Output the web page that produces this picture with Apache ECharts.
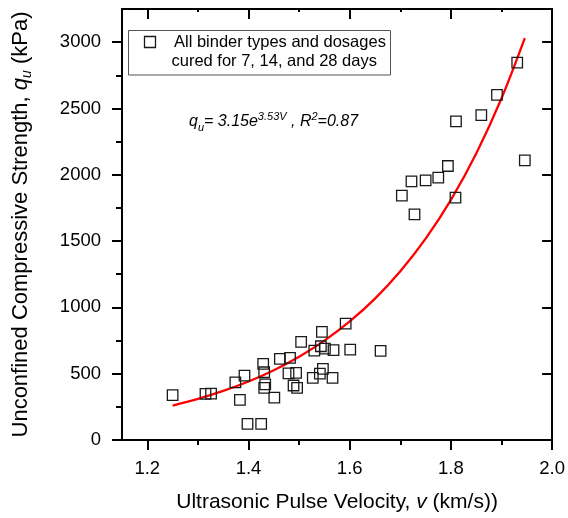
<!DOCTYPE html>
<html><head><meta charset="utf-8">
<script src="https://cdn.jsdelivr.net/npm/echarts@6/dist/echarts.min.js"></script>
<style>html,body{margin:0;padding:0;background:#fff}#c{width:568px;height:518px}</style>
</head><body><div id="c"></div>
<script>
// Measured points: ultrasonic pulse velocity (km/s) and UCS (kPa)
const velocity = [1.25, 1.315, 1.326, 1.374, 1.392, 1.383, 1.398, 1.425, 1.429, 1.431, 1.431, 1.433, 1.451, 1.462, 1.482, 1.479, 1.494, 1.489, 1.496, 1.504, 1.530, 1.527, 1.543, 1.551, 1.545, 1.547, 1.541, 1.566, 1.568, 1.592, 1.601, 1.661, 1.703, 1.722, 1.728, 1.750, 1.775, 1.794, 1.809, 1.810, 1.860, 1.891, 1.931, 1.946];
const strength = [338, 348, 350, 435, 486, 303, 122, 122, 574, 511, 393, 420, 320, 612, 619, 503, 506, 411, 393, 740, 674, 469, 707, 689, 815, 536, 501, 469, 677, 878, 682, 672, 1842, 1950, 1701, 1957, 1978, 2066, 1827, 2402, 2450, 2603, 2846, 2108];
// Fitted curve
const fitVelocity = [1.25, 1.30, 1.35, 1.40, 1.45, 1.50, 1.55, 1.60, 1.65, 1.70, 1.75, 1.80, 1.85, 1.90, 1.946];
const fitStrength = [260, 310, 370, 441, 526, 628, 749, 894, 1066, 1272, 1518, 1811, 2160, 2577, 3031];
// Ticks
const xMajorTicks = [1.2, 1.4, 1.6, 1.8, 2.0];
const xMinorTicks = [1.3, 1.5, 1.7, 1.9];
const yMajorTicks = [0, 500, 1000, 1500, 2000, 2500, 3000];
const yMinorTicks = [250, 750, 1250, 1750, 2250, 2750];
const legendLines = ['All binder types and dosages', 'cured for 7, 14, and 28 days'];

const FONT = '"Liberation Sans", Arial, Helvetica, sans-serif';
const X_MIN = 1.15, X_MAX = 2.0, Y_MIN = 0, Y_MAX = 3250;

function xAxisBase(extra) {
  return Object.assign({
    type: 'value', min: X_MIN, max: X_MAX, gridIndex: 0,
    splitLine: { show: false },
    axisLine: { show: false, onZero: false },
    axisLabel: { show: false },
    axisTick: { show: false }
  }, extra);
}
function yAxisBase(extra) {
  return Object.assign({
    type: 'value', min: Y_MIN, max: Y_MAX, gridIndex: 0,
    splitLine: { show: false },
    axisLine: { show: false, onZero: false },
    axisLabel: { show: false },
    axisTick: { show: false }
  }, extra);
}
const lineStyle = { color: '#000', width: 2 };

const chart = echarts.init(document.getElementById('c'), null, { renderer: 'canvas' });
chart.setOption({
  animation: false,
  backgroundColor: '#fff',
  grid: { left: 122, right: 15, top: 9, bottom: 77, containLabel: false },
  xAxis: [
    xAxisBase({
      position: 'bottom',
      axisLine: { show: true, onZero: false, lineStyle: lineStyle },
      axisTick: { show: true, inside: false, length: 10, lineStyle: lineStyle, customValues: xMajorTicks },
      axisLabel: { show: true, customValues: xMajorTicks, margin: 19, color: '#000', fontSize: 18.5, fontFamily: FONT,
        formatter: v => v.toFixed(1) },
      name: '{n|Ultrasonic Pulse Velocity, }{i|v}{n| (km/s))}',
      nameLocation: 'middle', nameGap: 52,
      nameTextStyle: { rich: {
        n: { fontSize: 21, fontFamily: FONT, color: '#000' },
        i: { fontSize: 21, fontFamily: FONT, fontStyle: 'italic', color: '#000' }
      } }
    }),
    xAxisBase({ position: 'bottom',
      axisTick: { show: true, inside: false, length: 5, lineStyle: lineStyle, customValues: xMinorTicks } }),
    xAxisBase({ position: 'top',
      axisLine: { show: true, onZero: false, lineStyle: lineStyle },
      axisTick: { show: true, inside: true, length: 10, lineStyle: lineStyle, customValues: xMajorTicks } }),
    xAxisBase({ position: 'top',
      axisTick: { show: true, inside: true, length: 3, lineStyle: lineStyle, customValues: xMinorTicks } })
  ],
  yAxis: [
    yAxisBase({
      position: 'left',
      axisLine: { show: true, onZero: false, lineStyle: lineStyle },
      axisTick: { show: true, inside: false, length: 10, lineStyle: lineStyle, customValues: yMajorTicks },
      axisLabel: { show: true, customValues: yMajorTicks, margin: 21, color: '#000', fontSize: 18.5, fontFamily: FONT,
        formatter: v => String(Math.round(v)) },
      name: '{n|Unconfined Compressive Strength, }{i|q}{s|u}{n| (kPa)}',
      nameLocation: 'middle', nameGap: 88, nameRotate: 90,
      nameTextStyle: { rich: {
        n: { fontSize: 22, fontFamily: FONT, color: '#000', lineHeight: 26 },
        i: { fontSize: 22, fontFamily: FONT, fontStyle: 'italic', color: '#000', lineHeight: 26 },
        s: { fontSize: 14, fontFamily: FONT, fontStyle: 'italic', color: '#000', lineHeight: 12, verticalAlign: 'bottom' }
      } }
    }),
    yAxisBase({ position: 'left',
      axisTick: { show: true, inside: false, length: 6, lineStyle: lineStyle, customValues: yMinorTicks } }),
    yAxisBase({ position: 'right',
      axisLine: { show: true, onZero: false, lineStyle: lineStyle },
      axisTick: { show: true, inside: true, length: 10, lineStyle: lineStyle, customValues: yMajorTicks } })
  ],
  series: [
    {
      type: 'line', name: 'fit', xAxisIndex: 0, yAxisIndex: 0,
      data: fitVelocity.map((v, i) => [v, fitStrength[i]]),
      smooth: 0.3, showSymbol: false, symbol: 'none',
      lineStyle: { color: '#ff0000', width: 2.3 }, z: 2
    },
    {
      type: 'scatter', name: 'All binder types and dosages', xAxisIndex: 0, yAxisIndex: 0,
      data: velocity.map((v, i) => [v, strength[i]]),
      symbol: 'rect', symbolSize: 10.5,
      itemStyle: { color: 'rgba(255,255,255,0)', borderColor: '#1a1a1a', borderWidth: 1.3, opacity: 1 },
      z: 3
    }
  ],
  graphic: [
    { type: 'rect', shape: { x: 128.5, y: 30.5, width: 262, height: 44.5 },
      style: { fill: '#fff', stroke: '#555', lineWidth: 1 }, z: 10 },
    { type: 'rect', shape: { x: 144.5, y: 36.5, width: 11, height: 11 },
      style: { fill: 'none', stroke: '#1a1a1a', lineWidth: 1.3 }, z: 11 },
    { type: 'text', x: 174, y: 42.3, z: 11,
      style: { text: legendLines[0], font: '16.5px ' + FONT, fill: '#000', verticalAlign: 'middle', align: 'left' } },
    { type: 'text', x: 171.5, y: 61, z: 11,
      style: { text: legendLines[1], font: '16.5px ' + FONT, fill: '#000', verticalAlign: 'middle', align: 'left' } },
    { type: 'text', x: 189, y: 111, z: 11,
      style: {
        text: '{m|q}{sb|u}{m|= 3.15e}{sp|3.53V}{m| , R}{sp|2}{m|=0.87}',
        verticalAlign: 'top', align: 'left',
        rich: {
          m: { fontSize: 16, fontFamily: FONT, fontStyle: 'italic', fill: '#000', lineHeight: 22 },
          sp: { fontSize: 11, fontFamily: FONT, fontStyle: 'italic', fill: '#000', lineHeight: 11, verticalAlign: 'top' },
          sb: { fontSize: 11, fontFamily: FONT, fontStyle: 'italic', fill: '#000', lineHeight: 8, verticalAlign: 'bottom' }
        }
      } }
  ]
});
</script>
</body></html>
